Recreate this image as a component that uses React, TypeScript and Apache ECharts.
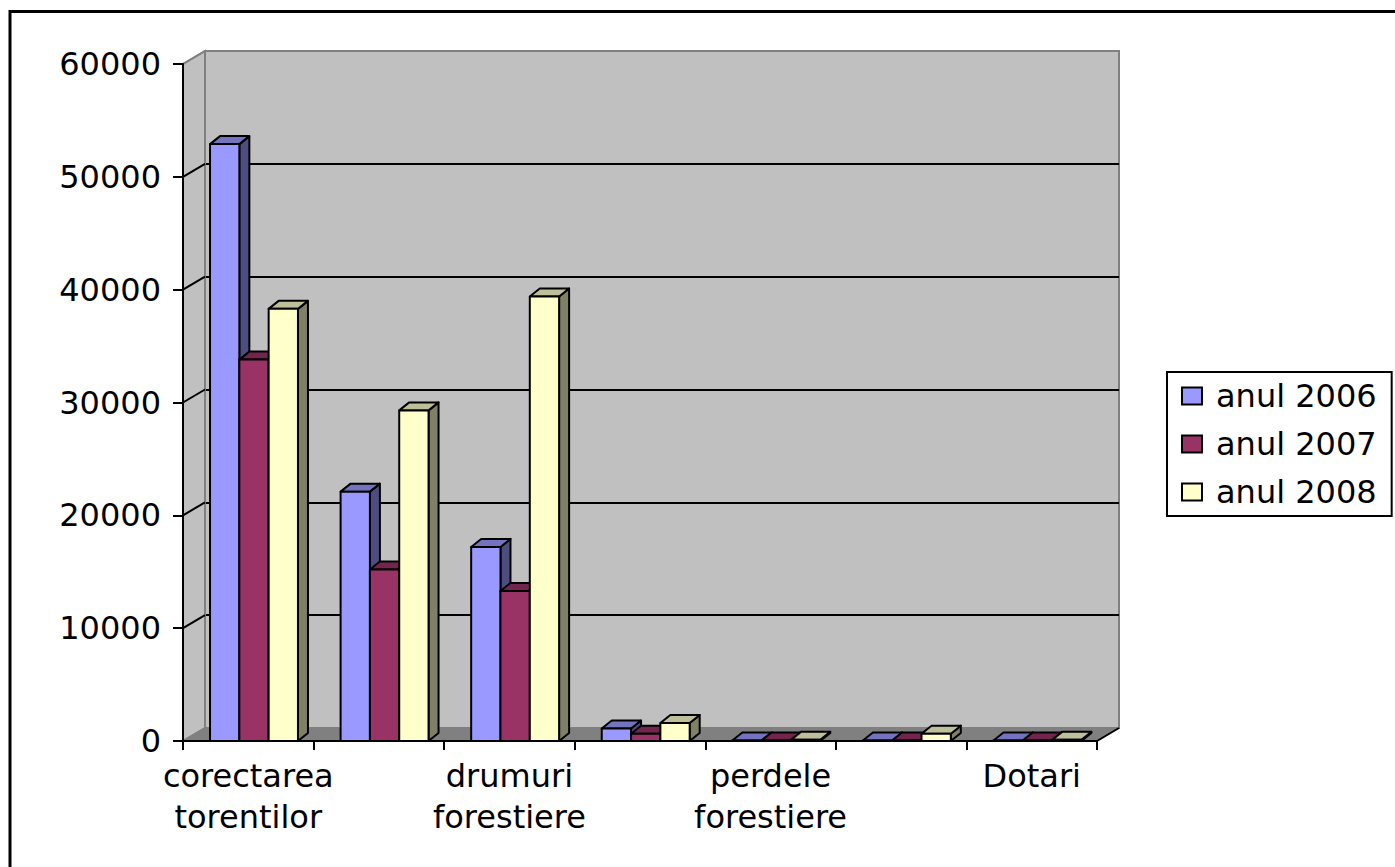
import React, { useEffect, useRef } from "react";
import * as echarts from "echarts";

// ---- data ----
const CATEGORIES = [
  "corectarea\ntorentilor",
  "impaduriri",
  "drumuri\nforestiere",
  "ameliorari",
  "perdele\nforestiere",
  "paza",
  "Dotari",
];
const SERIES_NAMES = ["anul 2006", "anul 2007", "anul 2008"];
const Y2006 = [52900, 22100, 17200, 1100, 50, 50, 50];
const Y2007 = [33800, 15200, 13300, 650, 50, 50, 50];
const Y2008 = [38300, 29300, 39400, 1600, 100, 650, 100];
const Y_TICKS = [0, 10000, 20000, 30000, 40000, 50000, 60000];
const Y_MIN = 0;
const Y_MAX = 60000;
const Y_STEP = 10000;

// ---- styles ----
const FONT = "DejaVu Sans";
const COLORS = [
  { front: "#9999FF", top: "#7373BF", side: "#4D4D80" },
  { front: "#993366", top: "#73264D", side: "#4D1A33" },
  { front: "#FFFFCC", top: "#BFBF99", side: "#808066" },
];
const WALL_DX = 22;
const WALL_DY = -13;
const BAR_DX = 10;
const BAR_DY = -8;
const BAR_FRAC = 0.2245;
const OFFSET_FRAC = 0.207;

const GRID_LEFT = 183;
const GRID_TOP = 64;
const GRID_W = 914;
const GRID_H = 677;

function barRenderer(idx: number) {
  const col = COLORS[idx];
  return (params: any, api: any) => {
    const c = api.value(0);
    const v = api.value(1);
    const b = api.coord([c, 0]);
    const t = api.coord([c, v]);
    const band = api.size([1, 0])[0];
    const bw = band * BAR_FRAC;
    const x0 = b[0] - band / 2 + band * OFFSET_FRAC + idx * bw;
    const x1 = x0 + bw;
    const yb = b[1];
    const yt = t[1];
    const stroke = { stroke: "#000", lineWidth: 2, lineJoin: "round" };
    return {
      type: "group",
      children: [
        {
          type: "polygon",
          shape: {
            points: [
              [x1, yt],
              [x1 + BAR_DX, yt + BAR_DY],
              [x1 + BAR_DX, yb + BAR_DY],
              [x1, yb],
            ],
          },
          style: { fill: col.side, ...stroke },
        },
        {
          type: "polygon",
          shape: {
            points: [
              [x0, yt],
              [x1, yt],
              [x1 + BAR_DX, yt + BAR_DY],
              [x0 + BAR_DX, yt + BAR_DY],
            ],
          },
          style: { fill: col.top, ...stroke },
        },
        {
          type: "rect",
          shape: { x: x0, y: yt, width: bw, height: Math.max(yb - yt, 0) },
          style: { fill: col.front, ...stroke },
        },
      ],
    };
  };
}

function frameRenderer(params: any, api: any) {
  const cs = params.coordSys;
  const L = cs.x;
  const R = cs.x + cs.width;
  const T = cs.y;
  const B = cs.y + cs.height;
  const children: any[] = [];
  // left wall
  children.push({
    type: "polygon",
    shape: {
      points: [
        [L, T],
        [L, B],
        [L + WALL_DX, B + WALL_DY],
        [L + WALL_DX, T + WALL_DY],
      ],
    },
    style: { fill: "#C0C0C0", stroke: "#808080", lineWidth: 2 },
  });
  // floor
  children.push({
    type: "polygon",
    shape: {
      points: [
        [L, B],
        [R, B],
        [R + WALL_DX, B + WALL_DY],
        [L + WALL_DX, B + WALL_DY],
      ],
    },
    style: { fill: "#808080", stroke: "none" },
  });
  // left-wall diagonals at ticks
  Y_TICKS.forEach((tv, i) => {
    const y = api.coord([0, tv])[1];
    const edge = i === 0 || i === Y_TICKS.length - 1;
    children.push({
      type: "line",
      shape: { x1: L, y1: y, x2: L + WALL_DX, y2: y + WALL_DY },
      style: { stroke: edge ? "#808080" : "#000", lineWidth: 2 },
    });
  });
  // floor right edge
  children.push({
    type: "line",
    shape: { x1: R, y1: B, x2: R + WALL_DX, y2: B + WALL_DY },
    style: { stroke: "#000", lineWidth: 2 },
  });
  return { type: "group", children };
}

export default function App() {
  const ref = useRef<HTMLDivElement>(null);
  useEffect(() => {
    if (!ref.current) return;
    const chart = echarts.init(ref.current, undefined, { renderer: "svg" });
    const values = [Y2006, Y2007, Y2008];
    const option: any = {
      animation: false,
      backgroundColor: "#fff",
      textStyle: { fontFamily: FONT },
      grid: [
        { left: GRID_LEFT, top: GRID_TOP, width: GRID_W, height: GRID_H, containLabel: false },
        {
          left: GRID_LEFT + WALL_DX,
          top: GRID_TOP + WALL_DY,
          width: GRID_W,
          height: GRID_H,
          show: true,
          backgroundColor: "#C0C0C0",
          borderColor: "#808080",
          borderWidth: 2,
          z: 0,
        },
      ],
      xAxis: [
        {
          type: "category",
          gridIndex: 0,
          data: CATEGORIES,
          boundaryGap: true,
          z: 10,
          axisLine: { show: true, lineStyle: { color: "#000", width: 2 } },
          axisTick: { show: true, interval: 0, length: 9, lineStyle: { color: "#000", width: 2 } },
          axisLabel: {
            interval: 1,
            color: "#000",
            fontSize: 32,
            fontFamily: FONT,
            lineHeight: 41,
            margin: 14,
          },
          splitLine: { show: false },
        },
        {
          type: "category",
          gridIndex: 1,
          data: CATEGORIES,
          show: false,
        },
      ],
      yAxis: [
        {
          type: "value",
          gridIndex: 0,
          min: Y_MIN,
          max: Y_MAX,
          interval: Y_STEP,
          z: 10,
          axisLine: { show: true, lineStyle: { color: "#000", width: 2 } },
          axisTick: { show: true, length: 10, lineStyle: { color: "#000", width: 2 } },
          axisLabel: {
            color: "#000",
            fontSize: 32,
            fontFamily: FONT,
            margin: 22,
            formatter: (v: number) => String(v),
          },
          splitLine: { show: false },
        },
        {
          type: "value",
          gridIndex: 1,
          min: Y_MIN,
          max: Y_MAX,
          interval: Y_STEP,
          axisLine: { show: false },
          axisTick: { show: false },
          axisLabel: { show: false },
          splitLine: {
            show: true,
            lineStyle: {
              color: ["#808080", "#000", "#000", "#000", "#000", "#000", "#808080"],
              width: 2,
            },
          },
        },
      ],
      legend: {
        orient: "vertical",
        left: 1167,
        top: 372,
        data: SERIES_NAMES,
        icon: "rect",
        itemWidth: 20,
        itemHeight: 17,
        itemGap: 12,
        padding: [6, 15, 6, 14],
        borderColor: "#000",
        borderWidth: 2,
        backgroundColor: "#fff",
        itemStyle: { borderColor: "#000", borderWidth: 2 },
        textStyle: {
          color: "#000",
          fontSize: 32,
          fontFamily: FONT,
          lineHeight: 36,
          padding: [0, 0, 0, 9],
        },
      },
      graphic: [
        {
          type: "rect",
          shape: { x: 10, y: 11.5, width: 1400, height: 900 },
          style: { fill: "none", stroke: "#000", lineWidth: 3 },
          z: 100,
        },
      ],
      series: [
        {
          type: "custom",
          name: "frame",
          xAxisIndex: 0,
          yAxisIndex: 0,
          z: 1,
          clip: false,
          silent: true,
          renderItem: frameRenderer,
          data: [[0, 0]],
        },
        ...SERIES_NAMES.map((name, i) => ({
          type: "custom",
          name,
          xAxisIndex: 0,
          yAxisIndex: 0,
          z: 3 + i,
          clip: false,
          itemStyle: { color: COLORS[i].front },
          renderItem: barRenderer(i),
          data: values[i].map((v, j) => [j, v]),
        })),
      ],
    };
    chart.setOption(option);
    return () => chart.dispose();
  }, []);
  return (
    <div
      ref={ref}
      style={{ position: "fixed", left: 0, top: 0, width: 1395, height: 867 }}
    />
  );
}
